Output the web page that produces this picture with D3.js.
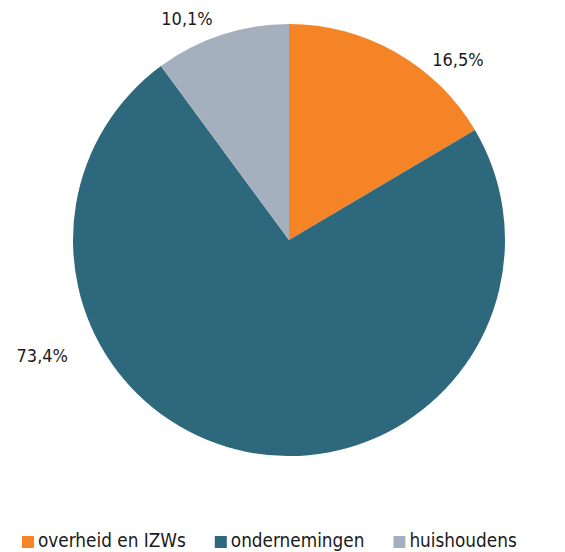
<!DOCTYPE html>
<html>
<head>
<meta charset="utf-8">
<script src="https://cdn.jsdelivr.net/npm/d3@7"></script>
<style>
  body { margin: 0; background: #fff; }
  text { font-family: "DejaVu Sans Condensed", "DejaVu Sans", sans-serif; fill: #1a1a1a; }
</style>
</head>
<body>
<svg id="chart"></svg>
<script>
var categories = ['overheid en IZWs', 'ondernemingen', 'huishoudens'];
var values = [16.5, 73.4, 10.1];
var valueLabels = ['16,5%', '73,4%', '10,1%'];
var colors = ['#f58426', '#2e687c', '#a5b0be'];

var width = 565, height = 552;
var cx = 289, cy = 240, radius = 216;

// label offsets from the slice's outer point (Excel-style outside placement)
var labelNudge = [[53, 23], [-200, -114], [-29, 1]];

var svg = d3.select('#chart')
  .attr('width', width)
  .attr('height', height);

var g = svg.append('g')
  .attr('transform', 'translate(' + cx + ',' + cy + ')');

var pie = d3.pie().sort(null).value(function(d) { return d; });
var arcs = pie(values);

var arc = d3.arc().innerRadius(0).outerRadius(radius);
var labelArc = d3.arc().innerRadius(radius + 18).outerRadius(radius + 18);

g.selectAll('.slice')
  .data(arcs)
  .enter()
  .append('path')
  .attr('class', 'slice')
  .attr('d', arc)
  .style('fill', function(d, i) { return colors[i]; });

g.selectAll('.value-label')
  .data(arcs)
  .enter()
  .append('text')
  .attr('class', 'value-label')
  .attr('x', function(d, i) { return labelArc.centroid(d)[0] + labelNudge[i][0]; })
  .attr('y', function(d, i) { return labelArc.centroid(d)[1] + labelNudge[i][1]; })
  .attr('dy', '0.35em')
  .style('text-anchor', 'middle')
  .style('font-size', '18px')
  .text(function(d, i) { return valueLabels[i]; });

var legend = svg.append('g')
  .attr('class', 'legend')
  .attr('transform', 'translate(22, 547)');

var lx = 0;
categories.forEach(function(c, i) {
  var item = legend.append('g').attr('transform', 'translate(' + lx + ',0)');
  item.append('rect')
    .attr('x', 0)
    .attr('y', -11)
    .attr('width', 12)
    .attr('height', 12)
    .style('fill', colors[i]);
  var t = item.append('text')
    .attr('x', 16)
    .attr('y', 0)
    .style('font-size', '18.8px')
    .text(c);
  lx += 16 + t.node().getComputedTextLength() + 29;
});
</script>
</body>
</html>
